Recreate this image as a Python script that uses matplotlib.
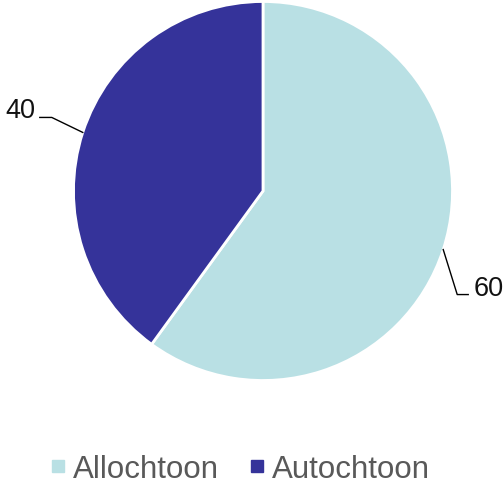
import numpy as np
import matplotlib
matplotlib.use("Agg")
import matplotlib.pyplot as plt
from matplotlib.lines import Line2D

plt.rcParams['font.family'] = ['Liberation Sans', 'DejaVu Sans']

categories = ["Allochtoon", "Autochtoon"]
values = [60, 40]
colors = ["#b9e0e4", "#35339a"]

W, H = 504, 489
fig = plt.figure(figsize=(W / 100, H / 100), dpi=100)
ax = fig.add_axes([0, 0, 1, 1])

cx, cy, r = 263, H - 192, 189.5
wedges, _ = ax.pie(values, colors=colors, startangle=90, counterclock=False,
                   center=(cx, cy), radius=r, frame=True,
                   wedgeprops=dict(edgecolor='white', linewidth=2))
ax.set_xlim(0, W)
ax.set_ylim(0, H)
ax.set_aspect('equal')
ax.axis('off')

# data labels with elbow leader lines
for w, v in zip(wedges, values):
    ang = np.deg2rad((w.theta1 + w.theta2) / 2)
    x0, y0 = cx + r * np.cos(ang), cy + r * np.sin(ang)
    if np.cos(ang) < 0:
        xe, ye = x0 - 31, y0 + 15
        xt = xe - 12
        ha = 'right'
        tx = xt - 4
    else:
        xe, ye = x0 + 14, y0 - 45
        xt = xe + 11
        ha = 'left'
        tx = xt + 5
    ax.plot([x0, xe, xt], [y0, ye, ye], color='black', lw=1)
    ax.text(tx, ye, str(v), ha=ha, va='baseline', fontsize=19.5, color='#111111')

handles = [Line2D([], [], marker='s', ls='', markersize=8, color=c) for c in colors]
fig.legend(handles, categories, loc='center', bbox_to_anchor=(240 / W, 19 / H),
           ncol=2, frameon=False, fontsize=22.5, labelcolor='#595959',
           handlelength=0.5, handletextpad=0.25, columnspacing=0.95)

fig.savefig("out.png", dpi=100)
